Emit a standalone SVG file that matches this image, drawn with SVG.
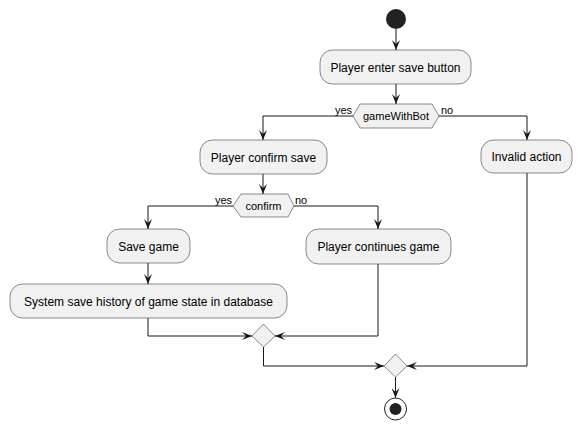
<svg xmlns="http://www.w3.org/2000/svg" width="583" height="431" viewBox="0 0 583 431">
<style>
.act{fill:#F1F1F1;stroke:#181818;stroke-width:0.5}
.dec{fill:#F1F1F1;stroke:#181818;stroke-width:0.5}
.t{font-family:"Liberation Sans",Arial,sans-serif;font-size:12px;fill:#000;text-anchor:middle}
.ht{font-family:"Liberation Sans",Arial,sans-serif;font-size:11px;fill:#000;text-anchor:middle}
.lbl{font-family:"Liberation Sans",Arial,sans-serif;font-size:11px;fill:#000}
.c{fill:none;stroke:#181818;stroke-width:1}
.ca{fill:none;stroke:#181818;stroke-width:1;marker-end:url(#ah)}
</style>
<defs>
<marker id="ah" viewBox="0 0 10 8" refX="10" refY="4" markerWidth="10" markerHeight="8" markerUnits="userSpaceOnUse" orient="auto">
<path d="M0,0 L10,4 L0,8 L4,4 Z" fill="#181818"/>
</marker>
</defs>
<g id="connectors">
<path class="ca" d="M396,29 L396,50"/>
<path class="ca" d="M396,84 L396,104"/>
<path class="ca" d="M353,116 L263,116 L263,140"/>
<path class="ca" d="M439,116 L527,116 L527,140"/>
<path class="ca" d="M263,174 L263,194"/>
<path class="ca" d="M233,206 L148,206 L148,229"/>
<path class="ca" d="M294,206 L378,206 L378,229"/>
<path class="ca" d="M148,263 L148,284"/>
<path class="ca" d="M148,318 L148,336 L252,336"/>
<path class="ca" d="M378,264 L378,336 L275,336"/>
<path class="ca" d="M263.5,347 L263.5,366 L384,366"/>
<path class="ca" d="M527,173 L527,366 L407,366"/>
<path class="ca" d="M395.5,377 L395.5,398"/>
<text class="lbl" x="352" y="114" text-anchor="end">yes</text>
<text class="lbl" x="441" y="114">no</text>
<text class="lbl" x="232" y="204" text-anchor="end">yes</text>
<text class="lbl" x="295" y="204">no</text>
</g>
<g id="start"><circle cx="396" cy="19" r="10" fill="#222222"/></g>
<g id="enterSave">
<rect class="act" x="320" y="50" width="151" height="34" rx="12.5"/>
<text class="t" x="395.5" y="71.5">Player enter save button</text>
</g>
<g id="gameWithBot">
<polygon class="dec" points="353,116 360,104 432,104 439,116 432,128 360,128"/>
<text class="ht" x="396" y="120">gameWithBot</text>
</g>
<g id="confirmSave">
<rect class="act" x="200" y="140" width="127" height="34" rx="12.5"/>
<text class="t" x="263.5" y="161.5">Player confirm save</text>
</g>
<g id="invalidAction">
<rect class="act" x="481" y="140" width="91" height="33" rx="12.5"/>
<text class="t" x="526.5" y="161">Invalid action</text>
</g>
<g id="confirm">
<polygon class="dec" points="233,206 241,194 288,194 294,206 288,217 241,217"/>
<text class="ht" x="263.5" y="210">confirm</text>
</g>
<g id="saveGame">
<rect class="act" x="107" y="229" width="83" height="34" rx="12.5"/>
<text class="t" x="148.5" y="250.5">Save game</text>
</g>
<g id="continues">
<rect class="act" x="306" y="229" width="145" height="35" rx="12.5"/>
<text class="t" x="378.5" y="251">Player continues game</text>
</g>
<g id="systemSave">
<rect class="act" x="10" y="284" width="277" height="34" rx="12.5"/>
<text class="t" x="148.5" y="305.5">System save history of game state in database</text>
</g>
<g id="merge1"><polygon class="dec" points="263.5,324 275,336 263.5,347 252,336"/></g>
<g id="merge2"><polygon class="dec" points="395.5,354 407,366 395.5,377 384,366"/></g>
<g id="end">
<circle cx="395.5" cy="409" r="11" fill="none" stroke="#222222" stroke-width="1"/>
<circle cx="395.5" cy="409" r="6" fill="#222222"/>
</g>
</svg>
